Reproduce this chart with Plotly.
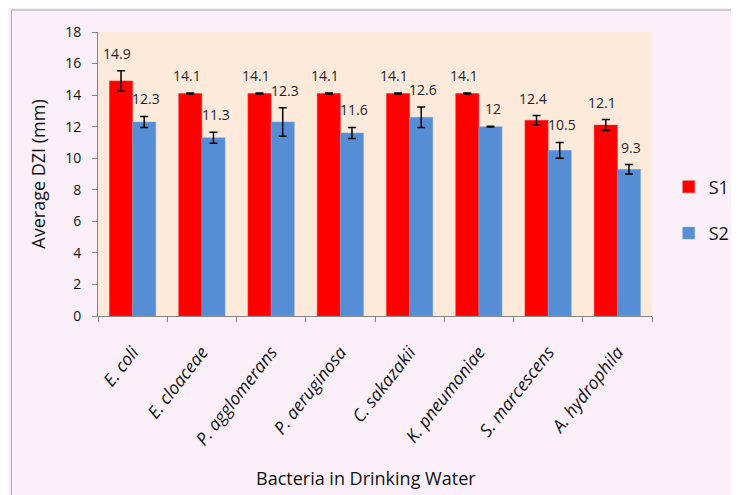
import plotly.graph_objects as go

categories = ["E. coli", "E. cloaceae", "P. agglomerans", "P. aeruginosa",
              "C. sakazakii", "K. pneumoniae", "S. marcescens", "A. hydrophila"]
s1_values = [14.9, 14.1, 14.1, 14.1, 14.1, 14.1, 12.4, 12.1]
s2_values = [12.3, 11.3, 12.3, 11.6, 12.6, 12.0, 10.5, 9.3]
s1_errors = [0.65, 0.03, 0.03, 0.03, 0.03, 0.03, 0.3, 0.35]
s2_errors = [0.35, 0.35, 0.9, 0.35, 0.65, 0.02, 0.5, 0.3]
s1_labels = ["14.9", "14.1", "14.1", "14.1", "14.1", "14.1", "12.4", "12.1"]
s2_labels = ["12.3", "11.3", "12.3", "11.6", "12.6", "12", "10.5", "9.3"]

FONT = "Open Sans"
W, H = 739, 495
OFF = 8  # page body margin
L, R, T, B = 90, 86, 24, 187
pw, ph = W - L - R, H - T - B

def px_x(p):
    return (p - OFF - L) / pw

def px_y(p):
    return (H - B - (p - OFF)) / ph

fig = go.Figure()
fig.add_trace(go.Bar(
    x=categories, y=s1_values, name="S1",
    marker=dict(color="#FF0000", line=dict(color="#FF3030", width=0.5)),
    error_y=dict(type="data", array=s1_errors, color="black", thickness=1.5, width=4),
    legendgroup="a",
))
fig.add_trace(go.Bar(
    x=categories, y=s2_values, name="S2",
    marker=dict(color="#558ED5", line=dict(color="#7FA9E0", width=0.5)),
    error_y=dict(type="data", array=s2_errors, color="black", thickness=1.5, width=4),
    legendgroup="b",
))

annotations = []
for i, c in enumerate(categories):
    for vals, errs, labs, off in ((s1_values, s1_errors, s1_labels, -0.22),
                                  (s2_values, s2_errors, s2_labels, 0.2)):
        annotations.append(dict(
            x=i + off, y=vals[i] + errs[i], xref="x", yref="y", text=labs[i],
            showarrow=False, yanchor="bottom", yshift=6,
            font=dict(family=FONT, size=14, color="#1F1F2F"),
        ))

annotations.append(dict(
    x=px_x(370), y=px_y(478), xref="paper", yref="paper", text="Bacteria in Drinking Water",
    showarrow=False, font=dict(family=FONT, size=18, color="#111111"), yanchor="middle",
))

fig.update_layout(
    width=W, height=H,
    margin=dict(l=L, r=R, t=T, b=B),
    paper_bgcolor="#FBF0FA",
    plot_bgcolor="#FDEADA",
    barmode="group", bargap=0.33, bargroupgap=0,
    showlegend=True,
    legend=dict(x=px_x(678), y=px_y(210), xanchor="left", yanchor="middle",
                traceorder="grouped", tracegroupgap=20,
                font=dict(family=FONT, size=18, color="#111111"),
                bgcolor="rgba(0,0,0,0)", itemwidth=30),
    annotations=annotations,
    shapes=[dict(type="rect", xref="paper", yref="paper",
                 x0=px_x(10), x1=px_x(780), y0=px_y(540), y1=px_y(10),
                 fillcolor="rgba(0,0,0,0)", line=dict(color="#A6A6A6", width=1), layer="below")],
    font=dict(family=FONT),
)

fig.update_yaxes(
    range=[0, 18], dtick=2, showgrid=False, zeroline=False,
    showline=True, linecolor="#868686", linewidth=1,
    ticks="outside", ticklen=5, tickcolor="#868686", ticklabelstandoff=8,
    tickfont=dict(family=FONT, size=14, color="#111111"),
    title=dict(text="Average DZI (mm)", font=dict(family=FONT, size=18, color="#111111"), standoff=14),
)
fig.update_xaxes(
    showgrid=False, showline=True, linecolor="#868686", linewidth=1,
    ticks="outside", ticklen=5, tickcolor="#868686", tickson="boundaries",
    tickangle=-52, ticklabelstandoff=18,
    tickfont=dict(family=FONT, size=17.5, color="#111111", style="italic"),
)

fig.write_html("out.html")
